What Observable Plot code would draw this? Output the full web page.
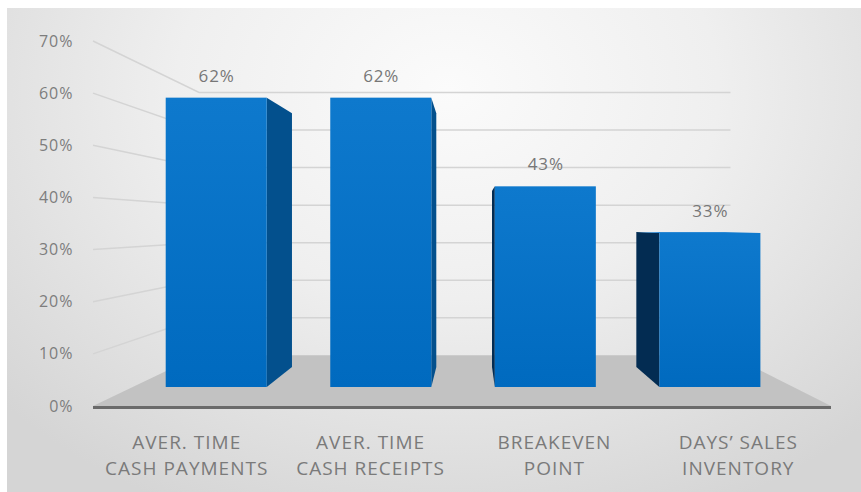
<!DOCTYPE html>
<html>
<head>
<meta charset="utf-8">
<script src="https://cdn.jsdelivr.net/npm/d3@7"></script>
<script src="https://cdn.jsdelivr.net/npm/@observablehq/plot@0.6"></script>
<style>
  html, body { margin: 0; padding: 0; background: #ffffff; }
  #chart text { letter-spacing: 1px; }
</style>
</head>
<body>
<div id="chart"></div>
<script>
// ---- data ----
const categories = ["AVER. TIME\nCASH PAYMENTS", "AVER. TIME\nCASH RECEIPTS", "BREAKEVEN\nPOINT", "DAYS’ SALES\nINVENTORY"];
const values = [62, 62, 43, 33];
const valueLabels = ["62%", "62%", "43%", "33%"];
const yTicks = [0, 10, 20, 30, 40, 50, 60, 70];
const yTickLabels = ["0%", "10%", "20%", "30%", "40%", "50%", "60%", "70%"];
const gridValues = [10, 20, 30, 40, 50, 60, 70];

// ---- layout / perspective ----
const W = 861, H = 492;
const VP = [472, 225];                 // vanishing point
const S_BAR_FRONT = 0.895, S_BAR_BACK = 0.785, S_WALL = 0.72;
const rows = categories.map((c, i) => ({category: c, value: values[i], label: valueLabels[i]}));
const SVGNS = "http://www.w3.org/2000/svg";

function project(X, Y, s) { return [VP[0] + (X - VP[0]) * s, VP[1] + (Y - VP[1]) * s]; }
function inPlane(k) {
  return (index, scales, vals, dims, ctx, next) => {
    const g = next(index, scales, vals, dims, ctx);
    const w = document.createElementNS(SVGNS, "g");
    w.setAttribute("transform", `translate(${VP[0] * (1 - k)},${VP[1] * (1 - k)}) scale(${k})`);
    w.appendChild(g);
    return w;
  };
}
const poly = pts => "M" + pts.map(p => p[0].toFixed(2) + "," + p[1].toFixed(2)).join("L") + "Z";

function defsMark() {
  const g = d3.create("svg:g");
  const defs = g.append("defs");
  const lg = defs.append("linearGradient").attr("id", "barGrad").attr("x1", 0).attr("y1", 0).attr("x2", 0).attr("y2", 1);
  lg.append("stop").attr("offset", "0%").attr("stop-color", "#0e79cd");
  lg.append("stop").attr("offset", "100%").attr("stop-color", "#006abf");
  return g.node();
}

function roomMark(index, scales, vals, dims) {
  const {x, y} = scales;
  const x0 = dims.marginLeft, x1 = dims.width - dims.marginRight;
  const g = d3.create("svg:g");
  // gridlines: left wall + back wall
  for (const v of gridValues) {
    const a = [x0, y(v)], b = project(x0, y(v), S_WALL), c = project(x1, y(v), S_WALL);
    g.append("path").attr("d", `M${a}L${b}L${c}`).attr("fill", "none")
      .attr("stroke", "#d4d4d4").attr("stroke-width", 1.5);
  }
  // floor
  const f = [[x0, y(0)], [x1, y(0)], project(x1, y(0), S_WALL), project(x0, y(0), S_WALL)];
  g.append("path").attr("d", poly(f)).attr("fill", "#c2c2c2");
  return g.node();
}

function sidesMark(index, scales, vals, dims) {
  const {x, y} = scales;
  const bw = x.bandwidth();
  const g = d3.create("svg:g");
  rows.forEach(r => {
    const X0 = x(r.category), X1 = X0 + bw, Yt = y(r.value), Yb = y(0);
    if (X1 < VP[0]) {
      g.append("path").attr("d", poly([project(X1, Yt, S_BAR_FRONT), project(X1, Yt, S_BAR_BACK),
        project(X1, Yb, S_BAR_BACK), project(X1, Yb, S_BAR_FRONT)])).attr("fill", "#03508d");
    }
    if (X0 > VP[0]) {
      g.append("path").attr("d", poly([project(X0, Yt, S_BAR_FRONT), project(X0, Yt, S_BAR_BACK),
        project(X0, Yb, S_BAR_BACK), project(X0, Yb, S_BAR_FRONT)])).attr("fill", "#032c52");
    }
    if (Yt > VP[1]) {
      g.append("path").attr("d", poly([project(X0, Yt, S_BAR_FRONT), project(X1, Yt, S_BAR_FRONT),
        project(X1, Yt, S_BAR_BACK), project(X0, Yt, S_BAR_BACK)])).attr("fill", "#2a88d4");
    }
  });
  return g.node();
}

const chart = Plot.plot({
  width: W,
  height: H,
  marginLeft: 93,
  marginRight: 30,
  marginTop: 41,
  marginBottom: 86,
  style: {
    fontFamily: '"Open Sans", sans-serif',
    overflow: "visible",
    background: "linear-gradient(#ffffff 0 8px, transparent 8px), linear-gradient(to right, #ffffff 0 7px, transparent 7px), radial-gradient(ellipse 70% 95% at 52% 18%, #fbfbfb 0%, #efefef 45%, #d5d5d5 100%)"
  },
  x: {domain: categories, paddingInner: 0.386, paddingOuter: 0.2, round: false, axis: null},
  y: {domain: [0, 70], axis: null},
  marks: [
    defsMark,
    roomMark,
    Plot.ruleY([0], {stroke: "#6a6a6a", strokeWidth: 3, dy: 1}),
    Plot.axisY(yTicks, {tickSize: 0, tickPadding: 20, tickFormat: d => yTickLabels[yTicks.indexOf(d)],
      fontSize: 16, color: "#7d7d7d", label: null}),
    sidesMark,
    Plot.barY(rows, {x: "category", y: "value", fill: "url(#barGrad)", render: inPlane(S_BAR_FRONT)}),
    Plot.text(rows, {x: "category", y: "value", text: "label", dy: -22 / S_BAR_FRONT,
      fontSize: 17 / S_BAR_FRONT, fill: "#777777", render: inPlane(S_BAR_FRONT)}),
    Plot.text(rows, {x: "category", text: "category", frameAnchor: "bottom", lineAnchor: "top",
      dy: 24, fontSize: 19, lineHeight: 26 / 19, fill: "#7a7a7a"})
  ]
});
document.getElementById("chart").appendChild(chart);
</script>
</body>
</html>
